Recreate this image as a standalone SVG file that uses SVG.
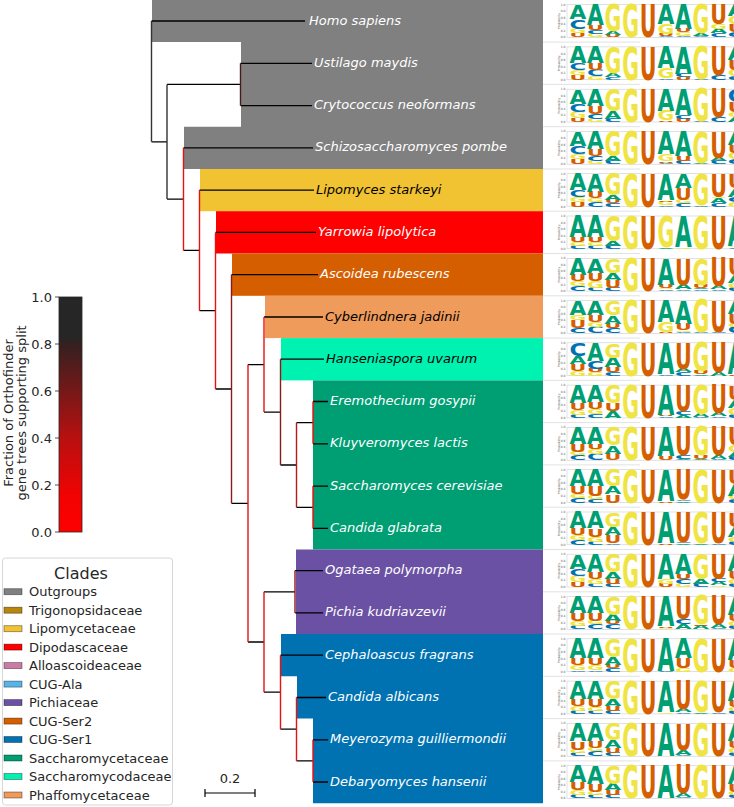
<svg xmlns="http://www.w3.org/2000/svg" width="734" height="807" viewBox="0 0 734 807">
<style>
text{font-family:"DejaVu Sans","Liberation Sans",sans-serif}
.sp{font-size:13px;font-style:italic}
.w{fill:#fff}
.k{fill:#000}
.L{font-weight:bold;font-size:13.72px}
.ax{font-size:3px;fill:#555}
.h{stroke:#000;stroke-width:1.3;fill:none}
.v{stroke-width:1.4;fill:none}
.lg{font-size:13px;fill:#262626}
.pt{stroke:rgba(0,0,0,.45);stroke-width:.8}
.sep{stroke:#e2e2e2;stroke-width:1}
</style>
<defs>
<linearGradient id="cb" x1="0" y1="1" x2="0" y2="0">
<stop offset="0" stop-color="#ff0000"/>
<stop offset=".15" stop-color="#f20202"/>
<stop offset=".4" stop-color="#b81010"/>
<stop offset=".6" stop-color="#761818"/>
<stop offset=".8" stop-color="#352020"/>
<stop offset=".83" stop-color="#262626"/>
<stop offset="1" stop-color="#262626"/>
</linearGradient>
<text id="a" class="L" fill="#009e73" textLength="16.8" lengthAdjust="spacingAndGlyphs">A</text>
<text id="c" class="L" fill="#0072b2" textLength="16.8" lengthAdjust="spacingAndGlyphs">C</text>
<text id="g" class="L" fill="#f0e442" textLength="16.8" lengthAdjust="spacingAndGlyphs">G</text>
<text id="u" class="L" fill="#d55e00" textLength="16.8" lengthAdjust="spacingAndGlyphs">U</text>
<g id="fx">
<rect x="567" y="-32.8" width="170" height="32.8" fill="none" stroke="#ccc" stroke-width=".6"/>
<text class="ax" x="565.5" y="-31.8" text-anchor="end">1.0</text>
<text class="ax" x="565.5" y="-25.2" text-anchor="end">0.8</text>
<text class="ax" x="565.5" y="-18.7" text-anchor="end">0.6</text>
<text class="ax" x="565.5" y="-12.1" text-anchor="end">0.4</text>
<text class="ax" x="565.5" y="-5.6" text-anchor="end">0.2</text>
<text class="ax" x="565.5" y="1" text-anchor="end">0.0</text>
<text class="ax" transform="translate(559.5 -16.4) rotate(-90)" text-anchor="middle">Probability</text>
<use href="#g" transform="matrix(1 0 0 3.28 622.2 0)"/>
<use href="#u" transform="matrix(1 0 0 3.28 639.8 0)"/>
</g>
</defs>

<g id="clades">
<path d="M152 0H543V169H184V126.7H241V42.1H152Z" fill="#808080"/>
<rect x="200" y="169" width="343" height="42.2" fill="#f1c232"/>
<rect x="216" y="211.2" width="327" height="42.3" fill="#ff0000"/>
<rect x="232" y="253.5" width="311" height="42.3" fill="#d55e00"/>
<rect x="265" y="295.8" width="278" height="42.3" fill="#ee9b5b"/>
<rect x="281" y="338.1" width="262" height="42.3" fill="#00f2b0"/>
<rect x="313" y="380.4" width="230" height="169.1" fill="#009e73"/>
<rect x="296" y="549.5" width="247" height="84.5" fill="#6a51a3"/>
<path d="M281 634H543V803.2H313V718.6H297V676.3H281Z" fill="#0072b2"/>
</g>

<g id="connectors">
<path class="h" d="M151.5 21H305M151.5 141.8H167M167 84.45H240.5M167 199.1H183.5M240.5 63.3H312M240.5 105.6H312M183.5 147.8H313M183.5 250.4H199.5M199.5 190.1H314M199.5 310.7H215.5M215.5 232.4H316M215.5 389H231.5M231.5 274.7H318M231.5 503.3H248M248 364.6H264M248 642H264M264 317H323M264 412.1H280.5M280.5 359.2H324M280.5 465H296.5M296.5 422.7H313M296.5 507.3H313M313 401.5H328M313 443.8H328M313 486.1H328M313 528.4H328M264 591.8H295M264 692.2H280.5M295 570.6H323M295 612.9H323M280.5 655.2H323M280.5 729.2H296.5M296.5 697.5H326M296.5 760.9H313M313 739.8H328M313 782H328"/>
<path class="v" stroke="#333" d="M151.5 21V141.8M167 84.45V199.1"/>
<path class="v" stroke="#4a1818" d="M240.5 63.3V105.6"/>
<path class="v" stroke="#8b1a1a" d="M231.5 274.7V503.3M280.5 359.2V465M295 570.6V612.9"/>
<path class="v" stroke="#b81818" d="M296.5 422.7V507.3"/>
<path class="v" stroke="#e81010" d="M183.5 147.8V250.4M199.5 190.1V310.7M215.5 232.4V389M248 364.6V642M264 317V412.1M313 401.5V443.8M313 486.1V528.4M264 591.8V692.2M280.5 655.2V729.2M296.5 697.5V760.9M313 739.8V782"/>
</g>

<g id="logo-bg">
<rect x="543" y="0" width="191" height="807" fill="#fff"/>
<path class="sep" d="M543 42.1H640M543 84.4H640M543 126.7H640M543 169H640M543 211.2H640M543 253.5H640M543 295.8H640M543 338.1H640M543 380.4H640M543 422.6H640M543 464.9H640M543 507.2H640M543 549.5H640M543 591.8H640M543 634H640M543 676.3H640M543 718.6H640M543 760.9H640"/>
</g>

<g id="n0"><text class="sp w" x="309" y="24.5">Homo sapiens</text>
<use href="#fx" y="37.4"/>
<g transform="translate(569 37.4) scale(1 .328)">
<use href="#u" transform="matrix(1 0 0 1.2 .4 0)"/><use href="#g" transform="matrix(1 0 0 1.5 .4 -12)"/><use href="#c" transform="matrix(1 0 0 2.8 .4 -27)"/><use href="#a" transform="matrix(1 0 0 4.5 .4 -55)"/>
<use href="#g" transform="matrix(1 0 0 1 18 0)"/><use href="#c" transform="matrix(1 0 0 1.2 18 -10)"/><use href="#u" transform="matrix(1 0 0 1.5 18 -22)"/><use href="#a" transform="matrix(1 0 0 6.3 18 -37)"/>
<use href="#u" transform="matrix(1 0 0 .8 35.6 0)"/><use href="#a" transform="matrix(1 0 0 1 35.6 -8)"/><use href="#g" transform="matrix(1 0 0 8.2 35.6 -18)"/>
<use href="#c" transform="matrix(1 0 0 .4 88.4 0)"/><use href="#u" transform="matrix(1 0 0 .6 88.4 -4)"/><use href="#g" transform="matrix(1 0 0 3 88.4 -10)"/><use href="#a" transform="matrix(1 0 0 6 88.4 -40)"/>
<use href="#c" transform="matrix(1 0 0 .5 106 0)"/><use href="#g" transform="matrix(1 0 0 1 106 -5)"/><use href="#u" transform="matrix(1 0 0 1.2 106 -15)"/><use href="#a" transform="matrix(1 0 0 7.3 106 -27)"/>
<use href="#c" transform="matrix(1 0 0 .5 123.6 0)"/><use href="#a" transform="matrix(1 0 0 .7 123.6 -5)"/><use href="#g" transform="matrix(1 0 0 8.8 123.6 -12)"/>
<use href="#c" transform="matrix(1 0 0 1.2 141.2 0)"/><use href="#a" transform="matrix(1 0 0 1.5 141.2 -12)"/><use href="#g" transform="matrix(1 0 0 1.5 141.2 -27)"/><use href="#u" transform="matrix(1 0 0 5.8 141.2 -42)"/>
<use href="#c" transform="matrix(1 0 0 1.5 158.8 0)"/><use href="#u" transform="matrix(1 0 0 2.5 158.8 -15)"/><use href="#g" transform="matrix(1 0 0 2.5 158.8 -40)"/><use href="#a" transform="matrix(1 0 0 3.5 158.8 -65)"/>
</g></g>

<g id="n1"><text class="sp w" x="314" y="66.8">Ustilago maydis</text>
<use href="#fx" y="79.7"/>
<g transform="translate(569 79.7) scale(1 .328)">
<use href="#u" transform="matrix(1 0 0 1.5 .4 0)"/><use href="#g" transform="matrix(1 0 0 1.5 .4 -15)"/><use href="#c" transform="matrix(1 0 0 2 .4 -30)"/><use href="#a" transform="matrix(1 0 0 5 .4 -50)"/>
<use href="#g" transform="matrix(1 0 0 1.2 18 0)"/><use href="#c" transform="matrix(1 0 0 1.8 18 -12)"/><use href="#u" transform="matrix(1 0 0 2 18 -30)"/><use href="#a" transform="matrix(1 0 0 5 18 -50)"/>
<use href="#c" transform="matrix(1 0 0 .8 35.6 0)"/><use href="#a" transform="matrix(1 0 0 1.2 35.6 -8)"/><use href="#g" transform="matrix(1 0 0 8 35.6 -20)"/>
<use href="#c" transform="matrix(1 0 0 .5 88.4 0)"/><use href="#g" transform="matrix(1 0 0 3 88.4 -5)"/><use href="#a" transform="matrix(1 0 0 6.5 88.4 -35)"/>
<use href="#u" transform="matrix(1 0 0 .8 106 0)"/><use href="#c" transform="matrix(1 0 0 1 106 -8)"/><use href="#a" transform="matrix(1 0 0 8.2 106 -18)"/>
<use href="#c" transform="matrix(1 0 0 .3 123.6 0)"/><use href="#g" transform="matrix(1 0 0 9.7 123.6 -3)"/>
<use href="#c" transform="matrix(1 0 0 1.5 141.2 0)"/><use href="#u" transform="matrix(1 0 0 8.5 141.2 -15)"/>
<use href="#c" transform="matrix(1 0 0 1.2 158.8 0)"/><use href="#g" transform="matrix(1 0 0 1.8 158.8 -12)"/><use href="#u" transform="matrix(1 0 0 3 158.8 -30)"/><use href="#a" transform="matrix(1 0 0 4 158.8 -60)"/>
</g></g>

<g id="n2"><text class="sp w" x="314" y="109.1">Crytococcus neoformans</text>
<use href="#fx" y="122"/>
<g transform="translate(569 122) scale(1 .328)">
<use href="#u" transform="matrix(1 0 0 1.2 .4 0)"/><use href="#g" transform="matrix(1 0 0 1.8 .4 -12)"/><use href="#c" transform="matrix(1 0 0 2.5 .4 -30)"/><use href="#a" transform="matrix(1 0 0 4.5 .4 -55)"/>
<use href="#g" transform="matrix(1 0 0 1 18 0)"/><use href="#c" transform="matrix(1 0 0 1.5 18 -10)"/><use href="#u" transform="matrix(1 0 0 2.5 18 -25)"/><use href="#a" transform="matrix(1 0 0 5 18 -50)"/>
<use href="#c" transform="matrix(1 0 0 1 35.6 0)"/><use href="#a" transform="matrix(1 0 0 2.5 35.6 -10)"/><use href="#g" transform="matrix(1 0 0 6.5 35.6 -35)"/>
<use href="#u" transform="matrix(1 0 0 .5 88.4 0)"/><use href="#g" transform="matrix(1 0 0 3 88.4 -5)"/><use href="#a" transform="matrix(1 0 0 6.5 88.4 -35)"/>
<use href="#u" transform="matrix(1 0 0 1 106 0)"/><use href="#c" transform="matrix(1 0 0 1 106 -10)"/><use href="#a" transform="matrix(1 0 0 8 106 -20)"/>
<use href="#c" transform="matrix(1 0 0 .3 123.6 0)"/><use href="#g" transform="matrix(1 0 0 9.7 123.6 -3)"/>
<use href="#c" transform="matrix(1 0 0 1.5 141.2 0)"/><use href="#u" transform="matrix(1 0 0 8.5 141.2 -15)"/>
<use href="#a" transform="matrix(1 0 0 1.5 158.8 0)"/><use href="#g" transform="matrix(1 0 0 1.5 158.8 -15)"/><use href="#u" transform="matrix(1 0 0 3 158.8 -30)"/><use href="#c" transform="matrix(1 0 0 4 158.8 -60)"/>
</g></g>

<g id="n3"><text class="sp w" x="315" y="151.3">Schizosaccharomyces pombe</text>
<use href="#fx" y="164.2"/>
<g transform="translate(569 164.2) scale(1 .328)">
<use href="#u" transform="matrix(1 0 0 1.5 .4 0)"/><use href="#g" transform="matrix(1 0 0 1.5 .4 -15)"/><use href="#c" transform="matrix(1 0 0 2.5 .4 -30)"/><use href="#a" transform="matrix(1 0 0 4.5 .4 -55)"/>
<use href="#g" transform="matrix(1 0 0 1 18 0)"/><use href="#c" transform="matrix(1 0 0 1.5 18 -10)"/><use href="#u" transform="matrix(1 0 0 2 18 -25)"/><use href="#a" transform="matrix(1 0 0 5.5 18 -45)"/>
<use href="#c" transform="matrix(1 0 0 1 35.6 0)"/><use href="#a" transform="matrix(1 0 0 1.5 35.6 -10)"/><use href="#g" transform="matrix(1 0 0 7.5 35.6 -25)"/>
<use href="#c" transform="matrix(1 0 0 .5 88.4 0)"/><use href="#u" transform="matrix(1 0 0 .5 88.4 -5)"/><use href="#g" transform="matrix(1 0 0 2 88.4 -10)"/><use href="#a" transform="matrix(1 0 0 7 88.4 -30)"/>
<use href="#c" transform="matrix(1 0 0 1 106 0)"/><use href="#u" transform="matrix(1 0 0 1.5 106 -10)"/><use href="#a" transform="matrix(1 0 0 7.5 106 -25)"/>
<use href="#a" transform="matrix(1 0 0 .5 123.6 0)"/><use href="#g" transform="matrix(1 0 0 9.5 123.6 -5)"/>
<use href="#c" transform="matrix(1 0 0 1 141.2 0)"/><use href="#a" transform="matrix(1 0 0 1 141.2 -10)"/><use href="#u" transform="matrix(1 0 0 8 141.2 -20)"/>
<use href="#c" transform="matrix(1 0 0 1.5 158.8 0)"/><use href="#g" transform="matrix(1 0 0 2 158.8 -15)"/><use href="#u" transform="matrix(1 0 0 2.5 158.8 -35)"/><use href="#a" transform="matrix(1 0 0 4 158.8 -60)"/>
</g></g>

<g id="n4"><text class="sp k" x="316" y="193.6">Lipomyces starkeyi</text>
<use href="#fx" y="206.5"/>
<g transform="translate(569 206.5) scale(1 .328)">
<use href="#u" transform="matrix(1 0 0 1.5 .4 0)"/><use href="#g" transform="matrix(1 0 0 1.5 .4 -15)"/><use href="#c" transform="matrix(1 0 0 2 .4 -30)"/><use href="#a" transform="matrix(1 0 0 5 .4 -50)"/>
<use href="#c" transform="matrix(1 0 0 1.5 18 0)"/><use href="#g" transform="matrix(1 0 0 1 18 -15)"/><use href="#u" transform="matrix(1 0 0 2 18 -25)"/><use href="#a" transform="matrix(1 0 0 5.5 18 -45)"/>
<use href="#c" transform="matrix(1 0 0 1 35.6 0)"/><use href="#u" transform="matrix(1 0 0 1 35.6 -10)"/><use href="#a" transform="matrix(1 0 0 1.5 35.6 -20)"/><use href="#g" transform="matrix(1 0 0 6.5 35.6 -35)"/>
<use href="#c" transform="matrix(1 0 0 .5 88.4 0)"/><use href="#g" transform="matrix(1 0 0 1 88.4 -5)"/><use href="#u" transform="matrix(1 0 0 .5 88.4 -15)"/><use href="#a" transform="matrix(1 0 0 8 88.4 -20)"/>
<use href="#c" transform="matrix(1 0 0 1 106 0)"/><use href="#g" transform="matrix(1 0 0 1 106 -10)"/><use href="#u" transform="matrix(1 0 0 3.5 106 -20)"/><use href="#a" transform="matrix(1 0 0 4.5 106 -55)"/>
<use href="#c" transform="matrix(1 0 0 .5 123.6 0)"/><use href="#g" transform="matrix(1 0 0 9.5 123.6 -5)"/>
<use href="#c" transform="matrix(1 0 0 1 141.2 0)"/><use href="#a" transform="matrix(1 0 0 1.5 141.2 -10)"/><use href="#g" transform="matrix(1 0 0 .5 141.2 -25)"/><use href="#u" transform="matrix(1 0 0 7 141.2 -30)"/>
<use href="#g" transform="matrix(1 0 0 1.5 158.8 0)"/><use href="#c" transform="matrix(1 0 0 1.5 158.8 -15)"/><use href="#a" transform="matrix(1 0 0 2.5 158.8 -30)"/><use href="#u" transform="matrix(1 0 0 4.5 158.8 -55)"/>
</g></g>

<g id="n5"><text class="sp w" x="318" y="235.9">Yarrowia lipolytica</text>
<use href="#fx" y="248.8"/>
<g transform="translate(569 248.8) scale(1 .328)">
<use href="#c" transform="matrix(1 0 0 1 .4 0)"/><use href="#g" transform="matrix(1 0 0 1 .4 -10)"/><use href="#u" transform="matrix(1 0 0 1.5 .4 -20)"/><use href="#a" transform="matrix(1 0 0 6.5 .4 -35)"/>
<use href="#c" transform="matrix(1 0 0 1 18 0)"/><use href="#g" transform="matrix(1 0 0 1 18 -10)"/><use href="#u" transform="matrix(1 0 0 1.5 18 -20)"/><use href="#a" transform="matrix(1 0 0 6.5 18 -35)"/>
<use href="#c" transform="matrix(1 0 0 1 35.6 0)"/><use href="#a" transform="matrix(1 0 0 1.5 35.6 -10)"/><use href="#g" transform="matrix(1 0 0 7.5 35.6 -25)"/>
<use href="#a" transform="matrix(1 0 0 .5 88.4 0)"/><use href="#g" transform="matrix(1 0 0 9.5 88.4 -5)"/>
<use href="#g" transform="matrix(1 0 0 .5 106 0)"/><use href="#a" transform="matrix(1 0 0 9.5 106 -5)"/>
<use href="#g" transform="matrix(1 0 0 10 123.6 0)"/>
<use href="#u" transform="matrix(1 0 0 10 141.2 0)"/>
<use href="#c" transform="matrix(1 0 0 .5 158.8 0)"/><use href="#g" transform="matrix(1 0 0 .5 158.8 -5)"/><use href="#a" transform="matrix(1 0 0 9 158.8 -10)"/>
</g></g>

<g id="n6"><text class="sp w" x="320" y="278.2">Ascoidea rubescens</text>
<use href="#fx" y="291.1"/>
<g transform="translate(569 291.1) scale(1 .328)">
<use href="#c" transform="matrix(1 0 0 1.5 .4 0)"/><use href="#g" transform="matrix(1 0 0 1.5 .4 -15)"/><use href="#u" transform="matrix(1 0 0 2 .4 -30)"/><use href="#a" transform="matrix(1 0 0 5 .4 -50)"/>
<use href="#c" transform="matrix(1 0 0 1 18 0)"/><use href="#g" transform="matrix(1 0 0 2 18 -10)"/><use href="#u" transform="matrix(1 0 0 2.5 18 -30)"/><use href="#a" transform="matrix(1 0 0 4.5 18 -55)"/>
<use href="#c" transform="matrix(1 0 0 1 35.6 0)"/><use href="#u" transform="matrix(1 0 0 2.5 35.6 -10)"/><use href="#a" transform="matrix(1 0 0 2 35.6 -35)"/><use href="#g" transform="matrix(1 0 0 4.5 35.6 -55)"/>
<use href="#c" transform="matrix(1 0 0 .5 88.4 0)"/><use href="#g" transform="matrix(1 0 0 .5 88.4 -5)"/><use href="#u" transform="matrix(1 0 0 1 88.4 -10)"/><use href="#a" transform="matrix(1 0 0 8 88.4 -20)"/>
<use href="#c" transform="matrix(1 0 0 .5 106 0)"/><use href="#a" transform="matrix(1 0 0 1.5 106 -5)"/><use href="#u" transform="matrix(1 0 0 8 106 -20)"/>
<use href="#c" transform="matrix(1 0 0 .5 123.6 0)"/><use href="#a" transform="matrix(1 0 0 .5 123.6 -5)"/><use href="#u" transform="matrix(1 0 0 1 123.6 -10)"/><use href="#g" transform="matrix(1 0 0 8 123.6 -20)"/>
<use href="#c" transform="matrix(1 0 0 .5 141.2 0)"/><use href="#a" transform="matrix(1 0 0 1 141.2 -5)"/><use href="#u" transform="matrix(1 0 0 8.5 141.2 -15)"/>
<use href="#c" transform="matrix(1 0 0 1 158.8 0)"/><use href="#g" transform="matrix(1 0 0 1.5 158.8 -10)"/><use href="#a" transform="matrix(1 0 0 2.5 158.8 -25)"/><use href="#u" transform="matrix(1 0 0 5 158.8 -50)"/>
</g></g>

<g id="n7"><text class="sp k" x="325" y="320.5">Cyberlindnera jadinii</text>
<use href="#fx" y="333.4"/>
<g transform="translate(569 333.4) scale(1 .328)">
<use href="#c" transform="matrix(1 0 0 1.5 .4 0)"/><use href="#u" transform="matrix(1 0 0 2.5 .4 -15)"/><use href="#g" transform="matrix(1 0 0 1.5 .4 -40)"/><use href="#a" transform="matrix(1 0 0 4.5 .4 -55)"/>
<use href="#c" transform="matrix(1 0 0 2 18 0)"/><use href="#g" transform="matrix(1 0 0 1.5 18 -20)"/><use href="#u" transform="matrix(1 0 0 2 18 -35)"/><use href="#a" transform="matrix(1 0 0 4.5 18 -55)"/>
<use href="#c" transform="matrix(1 0 0 1.5 35.6 0)"/><use href="#u" transform="matrix(1 0 0 1.5 35.6 -15)"/><use href="#a" transform="matrix(1 0 0 2.5 35.6 -30)"/><use href="#g" transform="matrix(1 0 0 4.5 35.6 -55)"/>
<use href="#u" transform="matrix(1 0 0 .5 88.4 0)"/><use href="#g" transform="matrix(1 0 0 3 88.4 -5)"/><use href="#a" transform="matrix(1 0 0 6.5 88.4 -35)"/>
<use href="#c" transform="matrix(1 0 0 .5 106 0)"/><use href="#g" transform="matrix(1 0 0 .5 106 -5)"/><use href="#u" transform="matrix(1 0 0 2 106 -10)"/><use href="#a" transform="matrix(1 0 0 7 106 -30)"/>
<use href="#c" transform="matrix(1 0 0 .3 123.6 0)"/><use href="#g" transform="matrix(1 0 0 9.7 123.6 -3)"/>
<use href="#c" transform="matrix(1 0 0 .5 141.2 0)"/><use href="#u" transform="matrix(1 0 0 9.5 141.2 -5)"/>
<use href="#c" transform="matrix(1 0 0 2 158.8 0)"/><use href="#g" transform="matrix(1 0 0 1 158.8 -20)"/><use href="#u" transform="matrix(1 0 0 3 158.8 -30)"/><use href="#a" transform="matrix(1 0 0 4 158.8 -60)"/>
</g></g>

<g id="n8"><text class="sp k" x="326" y="362.7">Hanseniaspora uvarum</text>
<use href="#fx" y="375.6"/>
<g transform="translate(569 375.6) scale(1 .328)">
<use href="#g" transform="matrix(1 0 0 1.5 .4 0)"/><use href="#u" transform="matrix(1 0 0 2 .4 -15)"/><use href="#a" transform="matrix(1 0 0 2.5 .4 -35)"/><use href="#c" transform="matrix(1 0 0 4 .4 -60)"/>
<use href="#g" transform="matrix(1 0 0 1 18 0)"/><use href="#u" transform="matrix(1 0 0 1 18 -10)"/><use href="#c" transform="matrix(1 0 0 2.5 18 -20)"/><use href="#a" transform="matrix(1 0 0 5.5 18 -45)"/>
<use href="#c" transform="matrix(1 0 0 1 35.6 0)"/><use href="#u" transform="matrix(1 0 0 1.5 35.6 -10)"/><use href="#a" transform="matrix(1 0 0 3 35.6 -25)"/><use href="#g" transform="matrix(1 0 0 4.5 35.6 -55)"/>
<use href="#c" transform="matrix(1 0 0 .5 88.4 0)"/><use href="#a" transform="matrix(1 0 0 9.5 88.4 -5)"/>
<use href="#c" transform="matrix(1 0 0 1 106 0)"/><use href="#a" transform="matrix(1 0 0 1 106 -10)"/><use href="#u" transform="matrix(1 0 0 8 106 -20)"/>
<use href="#a" transform="matrix(1 0 0 .5 123.6 0)"/><use href="#u" transform="matrix(1 0 0 1 123.6 -5)"/><use href="#g" transform="matrix(1 0 0 8.5 123.6 -15)"/>
<use href="#a" transform="matrix(1 0 0 1 141.2 0)"/><use href="#u" transform="matrix(1 0 0 9 141.2 -10)"/>
<use href="#u" transform="matrix(1 0 0 .5 158.8 0)"/><use href="#a" transform="matrix(1 0 0 9.5 158.8 -5)"/>
</g></g>

<g id="n9"><text class="sp w" x="330" y="405">Eremothecium gosypii</text>
<use href="#fx" y="417.9"/>
<g transform="translate(569 417.9) scale(1 .328)">
<use href="#c" transform="matrix(1 0 0 1 .4 0)"/><use href="#g" transform="matrix(1 0 0 1.5 .4 -10)"/><use href="#u" transform="matrix(1 0 0 2 .4 -25)"/><use href="#a" transform="matrix(1 0 0 5.5 .4 -45)"/>
<use href="#c" transform="matrix(1 0 0 1.2 18 0)"/><use href="#g" transform="matrix(1 0 0 1.5 18 -12)"/><use href="#u" transform="matrix(1 0 0 2 18 -27)"/><use href="#a" transform="matrix(1 0 0 5.3 18 -47)"/>
<use href="#a" transform="matrix(1 0 0 2 35.6 0)"/><use href="#u" transform="matrix(1 0 0 2.5 35.6 -20)"/><use href="#g" transform="matrix(1 0 0 5.5 35.6 -45)"/>
<use href="#c" transform="matrix(1 0 0 .5 88.4 0)"/><use href="#u" transform="matrix(1 0 0 .5 88.4 -5)"/><use href="#a" transform="matrix(1 0 0 9 88.4 -10)"/>
<use href="#a" transform="matrix(1 0 0 .8 106 0)"/><use href="#c" transform="matrix(1 0 0 1.2 106 -8)"/><use href="#u" transform="matrix(1 0 0 8 106 -20)"/>
<use href="#c" transform="matrix(1 0 0 .3 123.6 0)"/><use href="#a" transform="matrix(1 0 0 1 123.6 -3)"/><use href="#g" transform="matrix(1 0 0 8.7 123.6 -13)"/>
<use href="#c" transform="matrix(1 0 0 .5 141.2 0)"/><use href="#a" transform="matrix(1 0 0 1 141.2 -5)"/><use href="#u" transform="matrix(1 0 0 8.5 141.2 -15)"/>
<use href="#c" transform="matrix(1 0 0 1 158.8 0)"/><use href="#g" transform="matrix(1 0 0 2 158.8 -10)"/><use href="#a" transform="matrix(1 0 0 2.5 158.8 -30)"/><use href="#u" transform="matrix(1 0 0 4.5 158.8 -55)"/>
</g></g>

<g id="n10"><text class="sp w" x="330" y="447.3">Kluyveromyces lactis</text>
<use href="#fx" y="460.2"/>
<g transform="translate(569 460.2) scale(1 .328)">
<use href="#c" transform="matrix(1 0 0 1.5 .4 0)"/><use href="#g" transform="matrix(1 0 0 1 .4 -15)"/><use href="#u" transform="matrix(1 0 0 2.5 .4 -25)"/><use href="#a" transform="matrix(1 0 0 5 .4 -50)"/>
<use href="#c" transform="matrix(1 0 0 2 18 0)"/><use href="#g" transform="matrix(1 0 0 1.5 18 -20)"/><use href="#u" transform="matrix(1 0 0 1.5 18 -35)"/><use href="#a" transform="matrix(1 0 0 5 18 -50)"/>
<use href="#u" transform="matrix(1 0 0 2 35.6 0)"/><use href="#a" transform="matrix(1 0 0 2.5 35.6 -20)"/><use href="#g" transform="matrix(1 0 0 5.5 35.6 -45)"/>
<use href="#u" transform="matrix(1 0 0 1.2 88.4 0)"/><use href="#a" transform="matrix(1 0 0 8.8 88.4 -12)"/>
<use href="#a" transform="matrix(1 0 0 .5 106 0)"/><use href="#c" transform="matrix(1 0 0 1 106 -5)"/><use href="#u" transform="matrix(1 0 0 8.5 106 -15)"/>
<use href="#a" transform="matrix(1 0 0 .5 123.6 0)"/><use href="#u" transform="matrix(1 0 0 1 123.6 -5)"/><use href="#g" transform="matrix(1 0 0 8.5 123.6 -15)"/>
<use href="#c" transform="matrix(1 0 0 .5 141.2 0)"/><use href="#a" transform="matrix(1 0 0 1 141.2 -5)"/><use href="#u" transform="matrix(1 0 0 8.5 141.2 -15)"/>
<use href="#c" transform="matrix(1 0 0 1 158.8 0)"/><use href="#a" transform="matrix(1 0 0 1.5 158.8 -10)"/><use href="#g" transform="matrix(1 0 0 2 158.8 -25)"/><use href="#u" transform="matrix(1 0 0 5.5 158.8 -45)"/>
</g></g>

<g id="n11"><text class="sp w" x="330" y="489.6">Saccharomyces cerevisiae</text>
<use href="#fx" y="502.5"/>
<g transform="translate(569 502.5) scale(1 .328)">
<use href="#c" transform="matrix(1 0 0 1.5 .4 0)"/><use href="#g" transform="matrix(1 0 0 1 .4 -15)"/><use href="#u" transform="matrix(1 0 0 2.5 .4 -25)"/><use href="#a" transform="matrix(1 0 0 5 .4 -50)"/>
<use href="#c" transform="matrix(1 0 0 1 18 0)"/><use href="#g" transform="matrix(1 0 0 1 18 -10)"/><use href="#u" transform="matrix(1 0 0 3 18 -20)"/><use href="#a" transform="matrix(1 0 0 5 18 -50)"/>
<use href="#u" transform="matrix(1 0 0 2.5 35.6 0)"/><use href="#a" transform="matrix(1 0 0 2.5 35.6 -25)"/><use href="#g" transform="matrix(1 0 0 5 35.6 -50)"/>
<use href="#u" transform="matrix(1 0 0 .5 88.4 0)"/><use href="#a" transform="matrix(1 0 0 9.5 88.4 -5)"/>
<use href="#a" transform="matrix(1 0 0 .5 106 0)"/><use href="#c" transform="matrix(1 0 0 .5 106 -5)"/><use href="#u" transform="matrix(1 0 0 9 106 -10)"/>
<use href="#g" transform="matrix(1 0 0 10 123.6 0)"/>
<use href="#u" transform="matrix(1 0 0 10 141.2 0)"/>
<use href="#c" transform="matrix(1 0 0 1 158.8 0)"/><use href="#g" transform="matrix(1 0 0 1 158.8 -10)"/><use href="#a" transform="matrix(1 0 0 3.5 158.8 -20)"/><use href="#u" transform="matrix(1 0 0 4.5 158.8 -55)"/>
</g></g>

<g id="n12"><text class="sp w" x="330" y="531.9">Candida glabrata</text>
<use href="#fx" y="544.8"/>
<g transform="translate(569 544.8) scale(1 .328)">
<use href="#c" transform="matrix(1 0 0 1.5 .4 0)"/><use href="#g" transform="matrix(1 0 0 1.5 .4 -15)"/><use href="#u" transform="matrix(1 0 0 2 .4 -30)"/><use href="#a" transform="matrix(1 0 0 5 .4 -50)"/>
<use href="#c" transform="matrix(1 0 0 1 18 0)"/><use href="#g" transform="matrix(1 0 0 1.5 18 -10)"/><use href="#u" transform="matrix(1 0 0 2.5 18 -25)"/><use href="#a" transform="matrix(1 0 0 5 18 -50)"/>
<use href="#c" transform="matrix(1 0 0 .5 35.6 0)"/><use href="#u" transform="matrix(1 0 0 2.5 35.6 -5)"/><use href="#a" transform="matrix(1 0 0 2.5 35.6 -30)"/><use href="#g" transform="matrix(1 0 0 4.5 35.6 -55)"/>
<use href="#u" transform="matrix(1 0 0 .5 88.4 0)"/><use href="#a" transform="matrix(1 0 0 9.5 88.4 -5)"/>
<use href="#a" transform="matrix(1 0 0 .5 106 0)"/><use href="#c" transform="matrix(1 0 0 .5 106 -5)"/><use href="#u" transform="matrix(1 0 0 9 106 -10)"/>
<use href="#a" transform="matrix(1 0 0 .5 123.6 0)"/><use href="#g" transform="matrix(1 0 0 9.5 123.6 -5)"/>
<use href="#c" transform="matrix(1 0 0 .5 141.2 0)"/><use href="#u" transform="matrix(1 0 0 9.5 141.2 -5)"/>
<use href="#c" transform="matrix(1 0 0 1 158.8 0)"/><use href="#g" transform="matrix(1 0 0 1.5 158.8 -10)"/><use href="#a" transform="matrix(1 0 0 3 158.8 -25)"/><use href="#u" transform="matrix(1 0 0 4.5 158.8 -55)"/>
</g></g>

<g id="n13"><text class="sp w" x="325" y="574.1">Ogataea polymorpha</text>
<use href="#fx" y="587"/>
<g transform="translate(569 587) scale(1 .328)">
<use href="#u" transform="matrix(1 0 0 1.5 .4 0)"/><use href="#g" transform="matrix(1 0 0 2 .4 -15)"/><use href="#c" transform="matrix(1 0 0 2 .4 -35)"/><use href="#a" transform="matrix(1 0 0 4.5 .4 -55)"/>
<use href="#c" transform="matrix(1 0 0 1 18 0)"/><use href="#g" transform="matrix(1 0 0 1.5 18 -10)"/><use href="#u" transform="matrix(1 0 0 2 18 -25)"/><use href="#a" transform="matrix(1 0 0 5.5 18 -45)"/>
<use href="#c" transform="matrix(1 0 0 1 35.6 0)"/><use href="#u" transform="matrix(1 0 0 1.5 35.6 -10)"/><use href="#a" transform="matrix(1 0 0 2 35.6 -25)"/><use href="#g" transform="matrix(1 0 0 5.5 35.6 -45)"/>
<use href="#u" transform="matrix(1 0 0 1 88.4 0)"/><use href="#g" transform="matrix(1 0 0 1.5 88.4 -10)"/><use href="#a" transform="matrix(1 0 0 7.5 88.4 -25)"/>
<use href="#g" transform="matrix(1 0 0 1 106 0)"/><use href="#c" transform="matrix(1 0 0 1.5 106 -10)"/><use href="#u" transform="matrix(1 0 0 1.5 106 -25)"/><use href="#a" transform="matrix(1 0 0 6 106 -40)"/>
<use href="#c" transform="matrix(1 0 0 1 123.6 0)"/><use href="#a" transform="matrix(1 0 0 1.5 123.6 -10)"/><use href="#g" transform="matrix(1 0 0 7.5 123.6 -25)"/>
<use href="#g" transform="matrix(1 0 0 .5 141.2 0)"/><use href="#a" transform="matrix(1 0 0 1 141.2 -5)"/><use href="#c" transform="matrix(1 0 0 1 141.2 -15)"/><use href="#u" transform="matrix(1 0 0 7.5 141.2 -25)"/>
<use href="#c" transform="matrix(1 0 0 1 158.8 0)"/><use href="#g" transform="matrix(1 0 0 1.5 158.8 -10)"/><use href="#u" transform="matrix(1 0 0 2.5 158.8 -25)"/><use href="#a" transform="matrix(1 0 0 5 158.8 -50)"/>
</g></g>

<g id="n14"><text class="sp w" x="325" y="616.4">Pichia kudriavzevii</text>
<use href="#fx" y="629.3"/>
<g transform="translate(569 629.3) scale(1 .328)">
<use href="#c" transform="matrix(1 0 0 1 .4 0)"/><use href="#g" transform="matrix(1 0 0 1.5 .4 -10)"/><use href="#u" transform="matrix(1 0 0 2.5 .4 -25)"/><use href="#a" transform="matrix(1 0 0 5 .4 -50)"/>
<use href="#c" transform="matrix(1 0 0 1.5 18 0)"/><use href="#g" transform="matrix(1 0 0 1 18 -15)"/><use href="#u" transform="matrix(1 0 0 2.5 18 -25)"/><use href="#a" transform="matrix(1 0 0 5 18 -50)"/>
<use href="#c" transform="matrix(1 0 0 1.5 35.6 0)"/><use href="#u" transform="matrix(1 0 0 1 35.6 -15)"/><use href="#a" transform="matrix(1 0 0 2 35.6 -25)"/><use href="#g" transform="matrix(1 0 0 5.5 35.6 -45)"/>
<use href="#g" transform="matrix(1 0 0 .5 88.4 0)"/><use href="#u" transform="matrix(1 0 0 .5 88.4 -5)"/><use href="#a" transform="matrix(1 0 0 9 88.4 -10)"/>
<use href="#a" transform="matrix(1 0 0 1.5 106 0)"/><use href="#c" transform="matrix(1 0 0 1.5 106 -15)"/><use href="#u" transform="matrix(1 0 0 7 106 -30)"/>
<use href="#a" transform="matrix(1 0 0 1 123.6 0)"/><use href="#u" transform="matrix(1 0 0 .5 123.6 -10)"/><use href="#g" transform="matrix(1 0 0 8.5 123.6 -15)"/>
<use href="#c" transform="matrix(1 0 0 .5 141.2 0)"/><use href="#a" transform="matrix(1 0 0 1 141.2 -5)"/><use href="#u" transform="matrix(1 0 0 8.5 141.2 -15)"/>
<use href="#c" transform="matrix(1 0 0 1 158.8 0)"/><use href="#g" transform="matrix(1 0 0 1.5 158.8 -10)"/><use href="#u" transform="matrix(1 0 0 2 158.8 -25)"/><use href="#a" transform="matrix(1 0 0 5.5 158.8 -45)"/>
</g></g>

<g id="n15"><text class="sp w" x="325" y="658.7">Cephaloascus fragrans</text>
<use href="#fx" y="671.6"/>
<g transform="translate(569 671.6) scale(1 .328)">
<use href="#c" transform="matrix(1 0 0 .5 .4 0)"/><use href="#g" transform="matrix(1 0 0 1.5 .4 -5)"/><use href="#u" transform="matrix(1 0 0 2 .4 -20)"/><use href="#a" transform="matrix(1 0 0 6 .4 -40)"/>
<use href="#c" transform="matrix(1 0 0 .5 18 0)"/><use href="#g" transform="matrix(1 0 0 1.5 18 -5)"/><use href="#u" transform="matrix(1 0 0 2 18 -20)"/><use href="#a" transform="matrix(1 0 0 6 18 -40)"/>
<use href="#c" transform="matrix(1 0 0 1 35.6 0)"/><use href="#u" transform="matrix(1 0 0 1 35.6 -10)"/><use href="#a" transform="matrix(1 0 0 2.5 35.6 -20)"/><use href="#g" transform="matrix(1 0 0 5.5 35.6 -45)"/>
<use href="#c" transform="matrix(1 0 0 .3 88.4 0)"/><use href="#a" transform="matrix(1 0 0 9.7 88.4 -3)"/>
<use href="#g" transform="matrix(1 0 0 1 106 0)"/><use href="#u" transform="matrix(1 0 0 3 106 -10)"/><use href="#a" transform="matrix(1 0 0 6 106 -40)"/>
<use href="#g" transform="matrix(1 0 0 10 123.6 0)"/>
<use href="#u" transform="matrix(1 0 0 10 141.2 0)"/>
<use href="#g" transform="matrix(1 0 0 1 158.8 0)"/><use href="#u" transform="matrix(1 0 0 2.5 158.8 -10)"/><use href="#a" transform="matrix(1 0 0 6.5 158.8 -35)"/>
</g></g>

<g id="n16"><text class="sp w" x="328" y="701">Candida albicans</text>
<use href="#fx" y="713.9"/>
<g transform="translate(569 713.9) scale(1 .328)">
<use href="#c" transform="matrix(1 0 0 1 .4 0)"/><use href="#g" transform="matrix(1 0 0 1.5 .4 -10)"/><use href="#u" transform="matrix(1 0 0 2 .4 -25)"/><use href="#a" transform="matrix(1 0 0 5.5 .4 -45)"/>
<use href="#c" transform="matrix(1 0 0 1 18 0)"/><use href="#g" transform="matrix(1 0 0 1 18 -10)"/><use href="#u" transform="matrix(1 0 0 2.5 18 -20)"/><use href="#a" transform="matrix(1 0 0 5.5 18 -45)"/>
<use href="#c" transform="matrix(1 0 0 1 35.6 0)"/><use href="#u" transform="matrix(1 0 0 1.5 35.6 -10)"/><use href="#a" transform="matrix(1 0 0 2 35.6 -25)"/><use href="#g" transform="matrix(1 0 0 5.5 35.6 -45)"/>
<use href="#g" transform="matrix(1 0 0 .5 88.4 0)"/><use href="#a" transform="matrix(1 0 0 9.5 88.4 -5)"/>
<use href="#c" transform="matrix(1 0 0 .5 106 0)"/><use href="#a" transform="matrix(1 0 0 1 106 -5)"/><use href="#u" transform="matrix(1 0 0 8.5 106 -15)"/>
<use href="#a" transform="matrix(1 0 0 .5 123.6 0)"/><use href="#g" transform="matrix(1 0 0 9.5 123.6 -5)"/>
<use href="#c" transform="matrix(1 0 0 .5 141.2 0)"/><use href="#u" transform="matrix(1 0 0 9.5 141.2 -5)"/>
<use href="#c" transform="matrix(1 0 0 1 158.8 0)"/><use href="#g" transform="matrix(1 0 0 1 158.8 -10)"/><use href="#u" transform="matrix(1 0 0 2 158.8 -20)"/><use href="#a" transform="matrix(1 0 0 6 158.8 -40)"/>
</g></g>

<g id="n17"><text class="sp w" x="330" y="743.3">Meyerozyma guilliermondii</text>
<use href="#fx" y="756.2"/>
<g transform="translate(569 756.2) scale(1 .328)">
<use href="#c" transform="matrix(1 0 0 1 .4 0)"/><use href="#g" transform="matrix(1 0 0 1 .4 -10)"/><use href="#u" transform="matrix(1 0 0 2.5 .4 -20)"/><use href="#a" transform="matrix(1 0 0 5.5 .4 -45)"/>
<use href="#c" transform="matrix(1 0 0 1.5 18 0)"/><use href="#g" transform="matrix(1 0 0 1 18 -15)"/><use href="#u" transform="matrix(1 0 0 2 18 -25)"/><use href="#a" transform="matrix(1 0 0 5.5 18 -45)"/>
<use href="#c" transform="matrix(1 0 0 1 35.6 0)"/><use href="#u" transform="matrix(1 0 0 1.5 35.6 -10)"/><use href="#a" transform="matrix(1 0 0 2.5 35.6 -25)"/><use href="#g" transform="matrix(1 0 0 5 35.6 -50)"/>
<use href="#a" transform="matrix(1 0 0 10 88.4 0)"/>
<use href="#c" transform="matrix(1 0 0 .5 106 0)"/><use href="#a" transform="matrix(1 0 0 1.5 106 -5)"/><use href="#u" transform="matrix(1 0 0 8 106 -20)"/>
<use href="#g" transform="matrix(1 0 0 10 123.6 0)"/>
<use href="#u" transform="matrix(1 0 0 10 141.2 0)"/>
<use href="#c" transform="matrix(1 0 0 1 158.8 0)"/><use href="#g" transform="matrix(1 0 0 1.5 158.8 -10)"/><use href="#u" transform="matrix(1 0 0 2 158.8 -25)"/><use href="#a" transform="matrix(1 0 0 5.5 158.8 -45)"/>
</g></g>

<g id="n18"><text class="sp w" x="330" y="785.5">Debaryomyces hansenii</text>
<use href="#fx" y="798.4"/>
<g transform="translate(569 798.4) scale(1 .328)">
<use href="#c" transform="matrix(1 0 0 1 .4 0)"/><use href="#g" transform="matrix(1 0 0 1.5 .4 -10)"/><use href="#u" transform="matrix(1 0 0 2.5 .4 -25)"/><use href="#a" transform="matrix(1 0 0 5 .4 -50)"/>
<use href="#c" transform="matrix(1 0 0 1 18 0)"/><use href="#g" transform="matrix(1 0 0 1 18 -10)"/><use href="#u" transform="matrix(1 0 0 2.5 18 -20)"/><use href="#a" transform="matrix(1 0 0 5.5 18 -45)"/>
<use href="#c" transform="matrix(1 0 0 1 35.6 0)"/><use href="#u" transform="matrix(1 0 0 1.5 35.6 -10)"/><use href="#a" transform="matrix(1 0 0 2 35.6 -25)"/><use href="#g" transform="matrix(1 0 0 5.5 35.6 -45)"/>
<use href="#a" transform="matrix(1 0 0 10 88.4 0)"/>
<use href="#c" transform="matrix(1 0 0 .5 106 0)"/><use href="#a" transform="matrix(1 0 0 1 106 -5)"/><use href="#u" transform="matrix(1 0 0 8.5 106 -15)"/>
<use href="#g" transform="matrix(1 0 0 10 123.6 0)"/>
<use href="#u" transform="matrix(1 0 0 10 141.2 0)"/>
<use href="#c" transform="matrix(1 0 0 1 158.8 0)"/><use href="#g" transform="matrix(1 0 0 1 158.8 -10)"/><use href="#u" transform="matrix(1 0 0 2.5 158.8 -20)"/><use href="#a" transform="matrix(1 0 0 5.5 158.8 -45)"/>
</g></g>

<g id="colorbar">
<rect x="59" y="297" width="23" height="235" fill="url(#cb)" stroke="#262626" stroke-width=".8"/>
<path d="M55 297H59M55 344H59M55 391H59M55 438H59M55 485H59M55 532H59" stroke="#262626" stroke-width=".8"/>
<g class="lg" text-anchor="end">
<text x="52" y="301.7">1.0</text><text x="52" y="348.7">0.8</text><text x="52" y="395.7">0.6</text><text x="52" y="442.7">0.4</text><text x="52" y="489.7">0.2</text><text x="52" y="536.7">0.0</text>
</g>
<text class="lg" text-anchor="middle" transform="translate(12.5 413) rotate(-90)">Fraction of Orthofinder</text>
<text class="lg" text-anchor="middle" transform="translate(25.5 413) rotate(-90)">gene trees supporting split</text>
</g>

<g id="legend">
<rect x="2.5" y="558" width="170" height="247" rx="3" fill="#fff" fill-opacity=".85" stroke="#d6d6d6"/>
<text x="81" y="579" text-anchor="middle" style="font-size:16px;fill:#262626">Clades</text>
<rect class="pt" x="4" y="588.7" width="18" height="6" fill="#808080"/><text class="lg" x="29" y="596.2">Outgroups</text>
<rect class="pt" x="4" y="607.2" width="18" height="6" fill="#b8860b"/><text class="lg" x="29" y="614.7">Trigonopsidaceae</text>
<rect class="pt" x="4" y="625.7" width="18" height="6" fill="#f1c232"/><text class="lg" x="29" y="633.2">Lipomycetaceae</text>
<rect class="pt" x="4" y="644.1" width="18" height="6" fill="#ff0000"/><text class="lg" x="29" y="651.6">Dipodascaceae</text>
<rect class="pt" x="4" y="662.6" width="18" height="6" fill="#cc79a7"/><text class="lg" x="29" y="670.1">Alloascoideaceae</text>
<rect class="pt" x="4" y="681.1" width="18" height="6" fill="#56b4e9"/><text class="lg" x="29" y="688.6">CUG-Ala</text>
<rect class="pt" x="4" y="699.6" width="18" height="6" fill="#6a51a3"/><text class="lg" x="29" y="707.1">Pichiaceae</text>
<rect class="pt" x="4" y="718.1" width="18" height="6" fill="#d55e00"/><text class="lg" x="29" y="725.6">CUG-Ser2</text>
<rect class="pt" x="4" y="736.5" width="18" height="6" fill="#0072b2"/><text class="lg" x="29" y="744">CUG-Ser1</text>
<rect class="pt" x="4" y="755" width="18" height="6" fill="#009e73"/><text class="lg" x="29" y="762.5">Saccharomycetaceae</text>
<rect class="pt" x="4" y="773.5" width="18" height="6" fill="#00f2b0"/><text class="lg" x="29" y="781">Saccharomycodaceae</text>
<rect class="pt" x="4" y="792" width="18" height="6" fill="#ee9b5b"/><text class="lg" x="29" y="799.5">Phaffomycetaceae</text>
</g>

<g id="scalebar">
<path d="M205 793H255M205 789V797M255 789V797" stroke="#000" stroke-width="1.2" fill="none"/>
<text class="lg" x="230" y="783" text-anchor="middle">0.2</text>
</g>
</svg>
